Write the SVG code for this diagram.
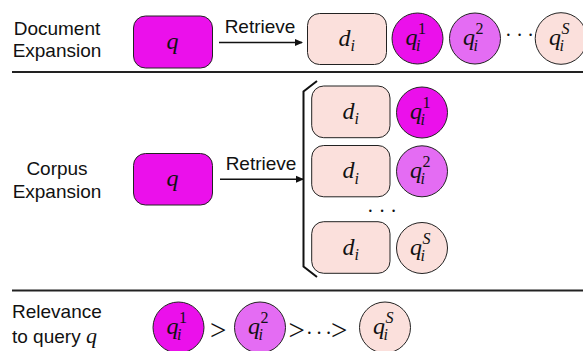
<svg xmlns="http://www.w3.org/2000/svg" width="583" height="351" viewBox="0 0 583 351">
<style>
.lbl{font-family:"Liberation Sans",Arial,sans-serif;font-size:19px;fill:#111}
.m{font-family:"Liberation Serif","Times New Roman",serif;font-style:italic;font-size:24px;fill:#111}
.s{font-family:"Liberation Serif","Times New Roman",serif;font-size:16px;fill:#111}
.si{font-style:italic}
.qbox{fill:#EB10EB;stroke:#222;stroke-width:1}
.dbox{fill:#FBE0DC;stroke:#222;stroke-width:1}
.c1{fill:#EB10EB;stroke:#222;stroke-width:1}
.c2{fill:#E46CF3;stroke:#222;stroke-width:1}
.c3{fill:#FBE0DC;stroke:#222;stroke-width:1}
.sep{stroke:#222;stroke-width:2}
.arr{stroke:#111;stroke-width:1.5;fill:none}
.dots{font-family:"Liberation Serif","Times New Roman",serif;font-size:20px;fill:#111}
.gt{font-family:"Liberation Serif","Times New Roman",serif;font-size:29px;fill:#111}
</style>
<defs>
<marker id="ah" markerWidth="8" markerHeight="8" refX="7" refY="4" orient="auto" markerUnits="userSpaceOnUse">
<path d="M0,0.5 L8,4 L0,7.5 Z" fill="#111"/>
</marker>
</defs>

<!-- Section labels -->
<g id="label-doc">
<text class="lbl" x="57" y="35" text-anchor="middle">Document</text>
<text class="lbl" x="57" y="57" text-anchor="middle">Expansion</text>
</g>
<g id="label-corpus">
<text class="lbl" x="57" y="175" text-anchor="middle">Corpus</text>
<text class="lbl" x="57" y="198" text-anchor="middle">Expansion</text>
</g>
<g id="label-rel">
<text class="lbl" x="12" y="318">Relevance</text>
<text class="lbl" x="12" y="343">to query <tspan class="m" style="font-size:22px">q</tspan></text>
</g>

<!-- separators -->
<g id="separators">
<line class="sep" x1="12" y1="72" x2="583" y2="72"/>
<line class="sep" x1="12" y1="290.5" x2="583" y2="290.5"/>
</g>

<!-- connectors -->
<g id="connectors">
<line class="arr" x1="219" y1="42.5" x2="302" y2="42.5" marker-end="url(#ah)"/>
<text class="lbl" x="260" y="33" text-anchor="middle">Retrieve</text>
<line class="arr" x1="220" y1="179.3" x2="303" y2="179.3" marker-end="url(#ah)"/>
<text class="lbl" x="261" y="170" text-anchor="middle">Retrieve</text>
<path d="M317,81 L303.5,91.5 L303.5,266.5 L317,277" stroke="#111" stroke-width="2" fill="none"/>
</g>

<!-- Section 1 -->
<g id="doc-q">
<rect class="qbox" x="133.5" y="16" width="79" height="52" rx="12"/>
<text class="m" x="166.5" y="48.5">q</text>
</g>
<g id="doc-d">
<rect class="dbox" x="307.5" y="13.5" width="79" height="51" rx="12"/>
<text class="m" x="338.5" y="45.5">d</text><text class="s si" x="350.5" y="51">i</text>
</g>
<g id="doc-q1">
<circle class="c1" cx="417.5" cy="38.5" r="25.5"/>
<text class="m" x="405.5" y="45">q</text><text class="s si" x="416" y="51">i</text><text class="s" x="418" y="34">1</text>
</g>
<g id="doc-q2">
<circle class="c2" cx="475" cy="38.5" r="25.5"/>
<text class="m" x="463" y="45">q</text><text class="s si" x="473.5" y="51">i</text><text class="s" x="475.5" y="34">2</text>
</g>
<text class="dots" x="505" y="42">·<tspan dx="4.5">·</tspan><tspan dx="4.5">·</tspan></text>
<g id="doc-qS">
<circle class="c3" cx="561" cy="38.5" r="25.8"/>
<text class="m" x="549" y="45">q</text><text class="s si" x="559.5" y="51">i</text><text class="s si" x="561.5" y="34">S</text>
</g>

<!-- Section 2 -->
<g id="corpus-q">
<rect class="qbox" x="133.5" y="153.5" width="79" height="51.5" rx="12"/>
<text class="m" x="166.5" y="186">q</text>
</g>
<g id="corpus-row1">
<rect class="dbox" x="311.7" y="86" width="78.3" height="51.7" rx="12"/>
<text class="m" x="342.5" y="118.5">d</text><text class="s si" x="354.5" y="124">i</text>
<circle class="c1" cx="422" cy="112.5" r="25.5"/>
<text class="m" x="410" y="119">q</text><text class="s si" x="420.5" y="125">i</text><text class="s" x="422.5" y="108">1</text>
</g>
<g id="corpus-row2">
<rect class="dbox" x="311.7" y="145.5" width="78.3" height="51.3" rx="12"/>
<text class="m" x="342.5" y="178">d</text><text class="s si" x="354.5" y="183.5">i</text>
<circle class="c2" cx="422" cy="171.3" r="25.5"/>
<text class="m" x="410" y="177.8">q</text><text class="s si" x="420.5" y="183.8">i</text><text class="s" x="422.5" y="166.8">2</text>
</g>
<text class="dots" x="367" y="217.5">·<tspan dx="5">·</tspan><tspan dx="5">·</tspan></text>
<g id="corpus-row3">
<rect class="dbox" x="311.7" y="221.7" width="78.3" height="51.6" rx="12"/>
<text class="m" x="342.5" y="254.5">d</text><text class="s si" x="354.5" y="260">i</text>
<circle class="c3" cx="422" cy="248" r="25.5"/>
<text class="m" x="410" y="254.5">q</text><text class="s si" x="420.5" y="260.5">i</text><text class="s si" x="422.5" y="243.5">S</text>
</g>

<!-- Section 3 -->
<g id="rel-q1">
<circle class="c1" cx="178.5" cy="327.5" r="25.5"/>
<text class="m" x="166.5" y="334">q</text><text class="s si" x="177" y="340">i</text><text class="s" x="179" y="323">1</text>
</g>
<text class="gt" x="210" y="339.5">&gt;</text>
<g id="rel-q2">
<circle class="c2" cx="260" cy="327.5" r="25.5"/>
<text class="m" x="248" y="334">q</text><text class="s si" x="258.5" y="340">i</text><text class="s" x="260.5" y="323">2</text>
</g>
<text class="gt" x="288.5" y="339.5">&gt;</text>
<text class="dots" x="306" y="340">·<tspan dx="3">·</tspan><tspan dx="3">·</tspan></text>
<text class="gt" x="331" y="339.5">&gt;</text>
<g id="rel-qS">
<circle class="c3" cx="385" cy="327.5" r="25.5"/>
<text class="m" x="373" y="334">q</text><text class="s si" x="383.5" y="340">i</text><text class="s si" x="385.5" y="323">S</text>
</g>
</svg>
